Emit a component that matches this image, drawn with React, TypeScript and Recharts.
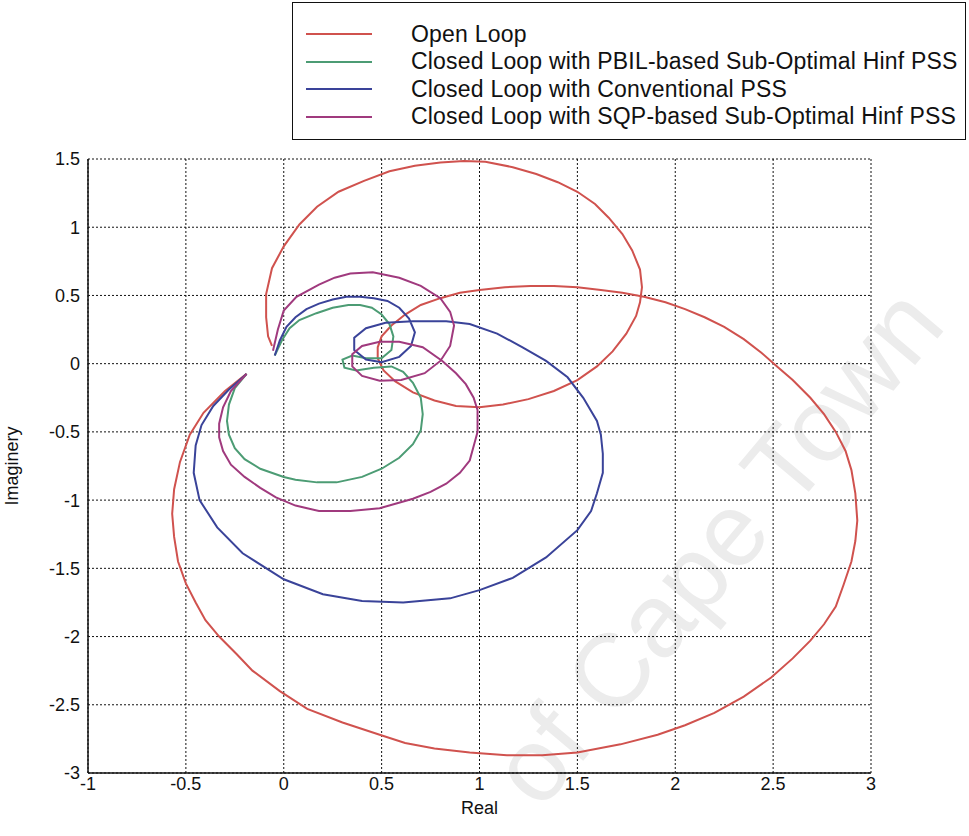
import React from 'react'
import { LineChart, Line, XAxis, YAxis, CartesianGrid, Label } from 'recharts'

// [real, imag] pairs, traced from the upper-left cusp
const openLoop: [number, number][] = [
  [-0.06, 0.13], [-0.08, 0.2], [-0.09, 0.34], [-0.09, 0.51], [-0.06, 0.7], [0.0, 0.86], [0.08, 1.02],
  [0.17, 1.15], [0.28, 1.26], [0.41, 1.34], [0.54, 1.41], [0.67, 1.45], [0.8, 1.475], [0.92, 1.485],
  [1.03, 1.48], [1.17, 1.44], [1.29, 1.39], [1.4, 1.33], [1.5, 1.26], [1.59, 1.17], [1.66, 1.07],
  [1.73, 0.95], [1.78, 0.83], [1.82, 0.69], [1.83, 0.56], [1.82, 0.45], [1.8, 0.35], [1.75, 0.22],
  [1.68, 0.09], [1.6, -0.02], [1.5, -0.12], [1.38, -0.2], [1.25, -0.26], [1.12, -0.3], [1.0, -0.32],
  [0.88, -0.31], [0.77, -0.27], [0.66, -0.21], [0.57, -0.13], [0.51, -0.05], [0.48, 0.04], [0.48, 0.12],
  [0.5, 0.2], [0.55, 0.28], [0.62, 0.36], [0.7, 0.43], [0.8, 0.48], [0.9, 0.52], [1.0, 0.54],
  [1.13, 0.56], [1.26, 0.57], [1.38, 0.57], [1.5, 0.56], [1.62, 0.54], [1.73, 0.52], [1.84, 0.49],
  [1.95, 0.45], [2.05, 0.4], [2.15, 0.34], [2.25, 0.27], [2.35, 0.18], [2.44, 0.08], [2.52, -0.02],
  [2.6, -0.12], [2.69, -0.25], [2.76, -0.37], [2.82, -0.5], [2.87, -0.64], [2.9, -0.78], [2.92, -0.95],
  [2.93, -1.15], [2.92, -1.3], [2.9, -1.45], [2.86, -1.62], [2.82, -1.78], [2.76, -1.91], [2.69, -2.03],
  [2.6, -2.16], [2.49, -2.3], [2.35, -2.44], [2.2, -2.56], [2.05, -2.65], [1.91, -2.72], [1.72, -2.79],
  [1.5, -2.85], [1.32, -2.87], [1.14, -2.87], [0.95, -2.85], [0.77, -2.82], [0.62, -2.78], [0.49, -2.72],
  [0.3, -2.63], [0.12, -2.53], [-0.02, -2.4], [-0.16, -2.25], [-0.24, -2.13], [-0.33, -2.0],
  [-0.4, -1.88], [-0.45, -1.75], [-0.5, -1.61], [-0.54, -1.45], [-0.56, -1.27], [-0.57, -1.1],
  [-0.56, -0.92], [-0.53, -0.72], [-0.48, -0.52], [-0.41, -0.36], [-0.3, -0.2], [-0.19, -0.075],
]

const pbil: [number, number][] = [
  [-0.046, 0.06], [-0.01, 0.17], [0.03, 0.26], [0.08, 0.32], [0.167, 0.37], [0.25, 0.41], [0.33, 0.43],
  [0.39, 0.43], [0.45, 0.41], [0.5, 0.36], [0.54, 0.29], [0.56, 0.2], [0.55, 0.1], [0.5, 0.04],
  [0.42, 0.04], [0.35, 0.06], [0.3, 0.03], [0.31, -0.03], [0.37, -0.05], [0.46, -0.03], [0.55, -0.02],
  [0.61, -0.06], [0.66, -0.14], [0.7, -0.25], [0.71, -0.37], [0.7, -0.49], [0.66, -0.59], [0.59, -0.69],
  [0.5, -0.77], [0.4, -0.83], [0.27, -0.87], [0.17, -0.87], [0.06, -0.85], [0.0, -0.83], [-0.12, -0.77],
  [-0.2, -0.7], [-0.25, -0.62], [-0.28, -0.52], [-0.29, -0.42], [-0.28, -0.3], [-0.25, -0.18],
  [-0.19, -0.075],
]

const conventional: [number, number][] = [
  [-0.046, 0.06], [-0.02, 0.17], [0.014, 0.27], [0.06, 0.34], [0.116, 0.4], [0.18, 0.44], [0.25, 0.47],
  [0.32, 0.49], [0.39, 0.49], [0.46, 0.48], [0.53, 0.46], [0.59, 0.41], [0.64, 0.33], [0.67, 0.23],
  [0.65, 0.13], [0.59, 0.05], [0.5, 0.01], [0.42, 0.03], [0.36, 0.1], [0.36, 0.19], [0.42, 0.26],
  [0.52, 0.3], [0.66, 0.31], [0.83, 0.31], [0.95, 0.29], [1.09, 0.22], [1.22, 0.12], [1.34, 0.02],
  [1.45, -0.1], [1.53, -0.25], [1.6, -0.42], [1.62, -0.52], [1.63, -0.66], [1.63, -0.8], [1.6, -0.95],
  [1.57, -1.08], [1.5, -1.22], [1.34, -1.42], [1.17, -1.57], [1.0, -1.66], [0.85, -1.72], [0.61, -1.75],
  [0.4, -1.74], [0.2, -1.69], [0.0, -1.58], [-0.21, -1.39], [-0.34, -1.2], [-0.43, -1.0], [-0.46, -0.8],
  [-0.45, -0.6], [-0.42, -0.45], [-0.36, -0.31], [-0.28, -0.19], [-0.19, -0.075],
]

const sqp: [number, number][] = [
  [-0.055, 0.095], [-0.03, 0.25], [0.0, 0.39], [0.065, 0.49], [0.18, 0.58], [0.26, 0.63], [0.34, 0.66],
  [0.455, 0.67], [0.59, 0.63], [0.7, 0.57], [0.8, 0.48], [0.85, 0.38], [0.87, 0.28], [0.85, 0.13],
  [0.8, 0.02], [0.72, -0.07], [0.6, -0.12], [0.49, -0.125], [0.4, -0.09], [0.35, -0.02], [0.35, 0.07],
  [0.4, 0.13], [0.49, 0.16], [0.59, 0.16], [0.71, 0.12], [0.81, 0.02], [0.88, -0.07], [0.93, -0.15],
  [0.97, -0.25], [0.99, -0.34], [0.99, -0.5], [0.95, -0.71], [0.9, -0.8], [0.83, -0.88], [0.75, -0.94],
  [0.66, -0.99], [0.49, -1.06], [0.34, -1.08], [0.18, -1.08], [0.06, -1.04], [-0.04, -0.98],
  [-0.12, -0.91], [-0.2, -0.83], [-0.27, -0.74], [-0.31, -0.64], [-0.33, -0.54], [-0.33, -0.44],
  [-0.31, -0.32], [-0.27, -0.2], [-0.19, -0.075],
]

const xTicks = [-1, -0.5, 0, 0.5, 1, 1.5, 2, 2.5, 3]
const yTicks = [-3, -2.5, -2, -1.5, -1, -0.5, 0, 0.5, 1, 1.5]

const series = [
  { name: 'Open Loop', points: openLoop, color: '#d0524e' },
  { name: 'Closed Loop with PBIL-based Sub-Optimal Hinf PSS', points: pbil, color: '#4c9c74' },
  { name: 'Closed Loop with Conventional PSS', points: conventional, color: '#3a4399' },
  { name: 'Closed Loop with SQP-based Sub-Optimal Hinf PSS', points: sqp, color: '#a03a7e' },
]

const toRows = (pts: [number, number][]) => pts.map(([x, y]) => ({ x, y }))

const font = '"Liberation Sans", Arial, sans-serif'

function LegendBox() {
  return (
    <div
      style={{
        position: 'absolute',
        left: 292,
        top: 2,
        width: 674,
        height: 138,
        border: '1.5px solid #111',
        background: '#fff',
        fontFamily: font,
        fontSize: 23,
        letterSpacing: 0.2,
        color: '#111',
        boxSizing: 'border-box',
      }}
    >
      {series.map((s, i) => (
        <div key={s.name} style={{ position: 'absolute', top: 18 + i * 27.5, left: 0, height: 26, display: 'flex', alignItems: 'center' }}>
          <div style={{ marginLeft: 13, width: 66, height: 0, borderTop: `2px solid ${s.color}` }} />
          <span style={{ marginLeft: 39, whiteSpace: 'nowrap' }}>{s.name}</span>
        </div>
      ))}
    </div>
  )
}

// faint scanned-page watermark
function Watermark() {
  return (
    <svg width={969} height={836} style={{ position: 'absolute', left: 0, top: 0 }}>
      <text
        x={540}
        y={812}
        fontSize={104}
        fill="#ececec"
        fontFamily={font}
        transform="rotate(-50 540 812)"
      >
        of Cape Town
      </text>
    </svg>
  )
}

export default function App() {
  return (
    <div style={{ position: 'absolute', left: 0, top: 0, width: 969, height: 836, background: '#fff', fontFamily: font, overflow: 'hidden' }}>
      <Watermark />
      <div style={{ position: 'absolute', left: 0, top: 0 }}>
        <LineChart width={969} height={836} margin={{ top: 159, right: 98, bottom: 0, left: 0 }}>
          <CartesianGrid stroke="#111" strokeDasharray="2 2" strokeWidth={1} />
          <XAxis
            dataKey="x"
            type="number"
            domain={[-1, 3]}
            ticks={xTicks}
            allowDuplicatedCategory={false}
            height={63}
            tickLine={false}
            tickSize={4}
            tickMargin={0}
            stroke="#111"
            strokeWidth={1.5}
            tick={{ fontSize: 18, fill: '#111', fontFamily: font }}
          >
            <Label value="Real" position="insideBottom" offset={22} style={{ fontSize: 18, fill: '#111', fontFamily: font }} />
          </XAxis>
          <YAxis
            type="number"
            domain={[-3, 1.5]}
            ticks={yTicks}
            width={88}
            tickLine={false}
            stroke="#111"
            strokeWidth={1.5}
            tick={{ fontSize: 18, fill: '#111', fontFamily: font }}
          >
            <Label
              value="Imaginery"
              angle={-90}
              position="insideLeft"
              offset={12}
              style={{ fontSize: 18, fill: '#111', fontFamily: font, textAnchor: 'middle' }}
            />
          </YAxis>
          {series.map((s) => (
            <Line
              key={s.name}
              data={toRows(s.points)}
              dataKey="y"
              name={s.name}
              type="linear"
              stroke={s.color}
              strokeWidth={2}
              dot={false}
              activeDot={false}
              isAnimationActive={false}
            />
          ))}
        </LineChart>
      </div>
      <LegendBox />
    </div>
  )
}
